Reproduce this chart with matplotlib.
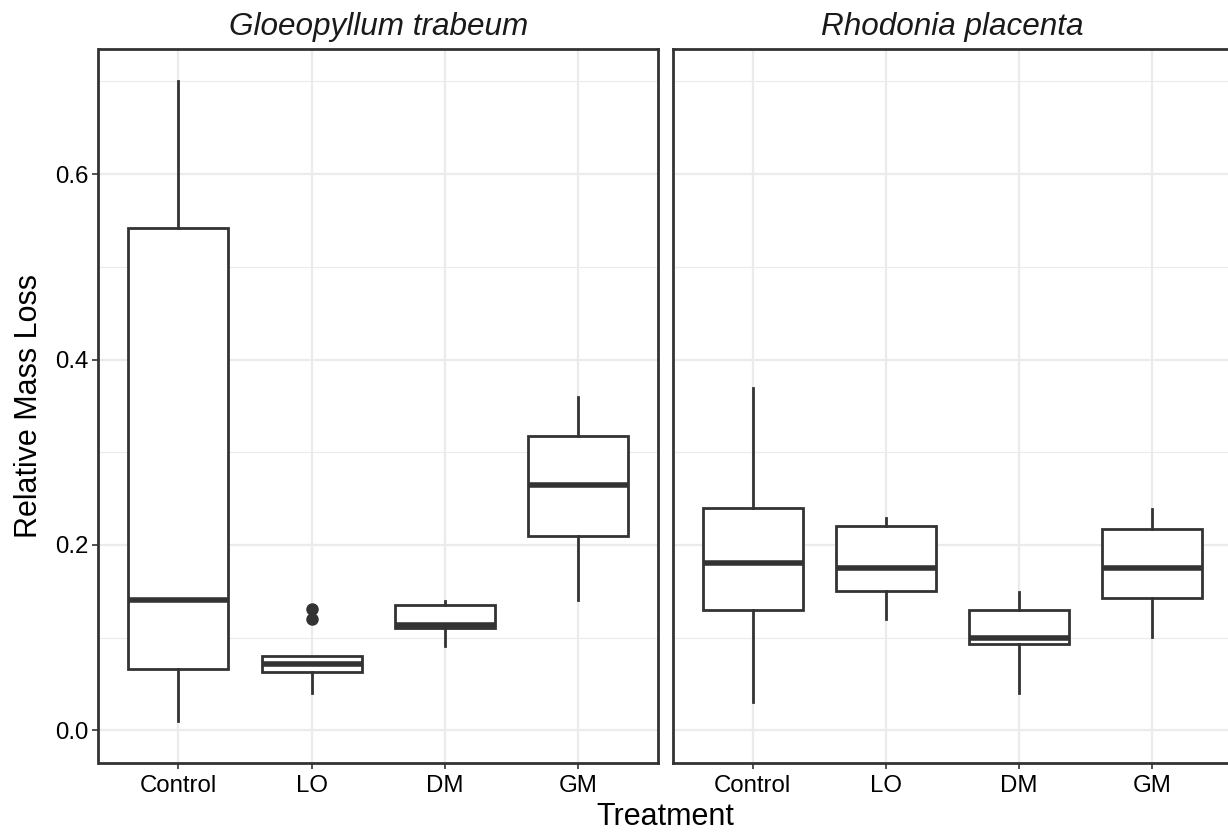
import matplotlib
matplotlib.use("Agg")
import matplotlib.pyplot as plt

plt.rcParams['font.family'] = ['Liberation Sans', 'DejaVu Sans']

# data: box stats per treatment
treatments = ['Control', 'LO', 'DM', 'GM']
species = ['Gloeopyllum trabeum', 'Rhodonia placenta']

gt_low = [0.01, 0.04, 0.091, 0.14]
gt_q1 = [0.066, 0.063, 0.110, 0.210]
gt_med = [0.14, 0.071, 0.114, 0.265]
gt_q3 = [0.542, 0.080, 0.135, 0.3175]
gt_high = [0.70, 0.080, 0.139, 0.36]
gt_out = [[], [0.12, 0.131], [], []]

rp_low = [0.031, 0.12, 0.04, 0.101]
rp_q1 = [0.130, 0.150, 0.093, 0.143]
rp_med = [0.180, 0.175, 0.100, 0.175]
rp_q3 = [0.240, 0.220, 0.130, 0.217]
rp_high = [0.369, 0.229, 0.149, 0.239]
rp_out = [[], [], [], []]

y_ticks = [0.0, 0.2, 0.4, 0.6]
y_minor = [0.1, 0.3, 0.5, 0.7]

DARK = '#333333'
GRID = '#EBEBEB'


def make_stats(low, q1, med, q3, high, out):
    stats = []
    for i in range(len(low)):
        stats.append(dict(whislo=low[i], q1=q1[i], med=med[i], q3=q3[i],
                          whishi=high[i], fliers=out[i]))
    return stats


W, H = 1228, 835
fig = plt.figure(figsize=(W / 100, H / 100), dpi=100)

left1, right1 = 98.5, 658.0
left2 = 672.7
top, bottom = 49.0, 762.7
pw = right1 - left1
ax1 = fig.add_axes([left1 / W, 1 - bottom / H, pw / W, (bottom - top) / H])
ax2 = fig.add_axes([left2 / W, 1 - bottom / H, pw / W, (bottom - top) / H])

panels = [
    (ax1, make_stats(gt_low, gt_q1, gt_med, gt_q3, gt_high, gt_out)),
    (ax2, make_stats(rp_low, rp_q1, rp_med, rp_q3, rp_high, rp_out)),
]

for k, (ax, stats) in enumerate(panels):
    pos = list(range(1, len(treatments) + 1))
    ax.bxp(stats, positions=pos, widths=0.75, showcaps=False,
           patch_artist=True,
           boxprops=dict(facecolor='white', edgecolor=DARK, linewidth=2.0),
           whiskerprops=dict(color=DARK, linewidth=2.0),
           medianprops=dict(color=DARK, linewidth=4.0, solid_capstyle='butt'),
           flierprops=dict(marker='o', markerfacecolor=DARK, markeredgecolor=DARK,
                           markersize=8, linestyle='none'),
           zorder=3)
    ax.set_xlim(0.4, 4.6)
    ax.set_ylim(-0.035, 0.735)
    ax.set_xticks(pos)
    ax.set_xticklabels(treatments)
    ax.set_yticks(y_ticks)
    ax.set_yticks(y_minor, minor=True)
    ax.set_yticklabels(['0.0', '0.2', '0.4', '0.6'])
    ax.grid(True, which='major', color=GRID, linewidth=1.6, zorder=0)
    ax.grid(True, which='minor', axis='y', color=GRID, linewidth=0.8, zorder=0)
    ax.set_axisbelow(True)
    for s in ax.spines.values():
        s.set_color(DARK)
        s.set_linewidth(2.0)
    ax.tick_params(axis='both', which='major', length=4, width=1.2, color=DARK,
                   labelsize=17.3, labelcolor='black', pad=3)
    ax.tick_params(axis='x', which='major', pad=5)
    ax.tick_params(axis='y', which='minor', length=0)
    ax.set_title(species[k], fontsize=22.7, style='italic', color='#1a1a1a', pad=10)

ax2.tick_params(axis='y', which='both', left=False, labelleft=False)
ax1.set_ylabel('Relative Mass Loss', fontsize=22, color='black', labelpad=8)

fig.text(665 / W, 1 - 817 / H, 'Treatment', fontsize=22, color='black',
         ha='center', va='center')

fig.savefig('out.png', dpi=100)
